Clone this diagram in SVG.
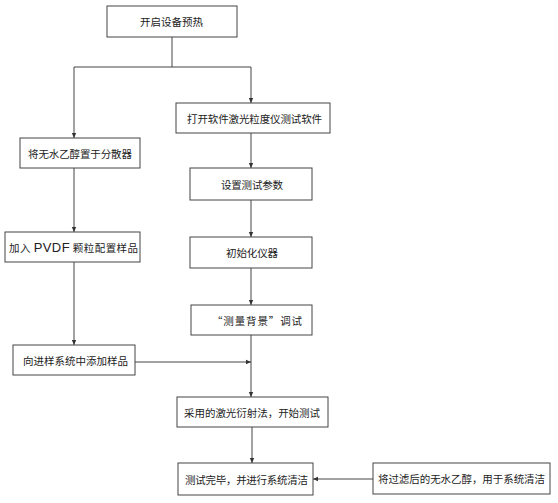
<svg xmlns="http://www.w3.org/2000/svg" width="558" height="503" viewBox="0 0 558 503">
<defs>
<marker id="arr" markerWidth="6" markerHeight="6" refX="5" refY="3" orient="auto" markerUnits="userSpaceOnUse">
<path d="M0,0.8 L5,3 L0,5.2 Z" fill="#333"/>
</marker>
<style>
.box{fill:#fff;stroke:#444;stroke-width:1}
.t{font-family:"Noto Sans CJK SC","Liberation Sans",sans-serif;font-size:10.5px;fill:#222;dominant-baseline:central}
.lat{font-family:"Liberation Sans",sans-serif;font-size:13px}
.c{fill:none;stroke:#444;stroke-width:1}
</style>
</defs>
<rect width="558" height="503" fill="#fff"/>
<g id="connectors">
<path class="c" d="M172,37 V67"/>
<path class="c" d="M74,67 H251"/>
<path class="c" d="M74,67 V138" marker-end="url(#arr)"/>
<path class="c" d="M251,67 V103" marker-end="url(#arr)"/>
<path class="c" d="M74,168 V232" marker-end="url(#arr)"/>
<path class="c" d="M74,262 V345" marker-end="url(#arr)"/>
<path class="c" d="M251,133 V168" marker-end="url(#arr)"/>
<path class="c" d="M251,200 V237" marker-end="url(#arr)"/>
<path class="c" d="M251,268 V305" marker-end="url(#arr)"/>
<path class="c" d="M251,335 V397" marker-end="url(#arr)"/>
<path class="c" d="M135,362 H251" marker-end="url(#arr)"/>
<path class="c" d="M252,427 V463" marker-end="url(#arr)"/>
<path class="c" d="M373,479 H313" marker-end="url(#arr)"/>
</g>
<g id="n1"><rect class="box" x="107" y="6" width="130" height="31"/><text class="t" x="140" y="21.5" textLength="63">开启设备预热</text></g>
<g id="n2"><rect class="box" x="176" y="103" width="154" height="30"/><text class="t" x="187" y="118" textLength="135">打开软件激光粒度仪测试软件</text></g>
<g id="n3"><rect class="box" x="20" y="138" width="120" height="30"/><text class="t" x="28" y="153" textLength="104">将无水乙醇置于分散器</text></g>
<g id="n4"><rect class="box" x="190" y="168" width="122" height="32"/><text class="t" x="221" y="184" textLength="62">设置测试参数</text></g>
<g id="n5"><rect class="box" x="5" y="232" width="135" height="30"/><text class="t" x="9" y="247" textLength="129">加入 <tspan class="lat">PVDF</tspan> 颗粒配置样品</text></g>
<g id="n6"><rect class="box" x="190" y="237" width="122" height="31"/><text class="t" x="226" y="252.5" textLength="52">初始化仪器</text></g>
<g id="n7"><rect class="box" x="191" y="305" width="121" height="30"/><text class="t" x="212" y="320" textLength="90">“测量背景”调试</text></g>
<g id="n8"><rect class="box" x="13" y="345" width="122" height="30"/><text class="t" x="23" y="360" textLength="105">向进样系统中添加样品</text></g>
<g id="n9"><rect class="box" x="177" y="397" width="151" height="30"/><text class="t" x="184" y="412" textLength="136">采用的激光衍射法，开始测试</text></g>
<g id="n10"><rect class="box" x="178" y="463" width="135" height="32"/><text class="t" x="185" y="479" textLength="123">测试完毕，并进行系统清洁</text></g>
<g id="n11"><rect class="box" x="373" y="463" width="177" height="31"/><text class="t" x="378" y="478.5" textLength="167">将过滤后的无水乙醇，用于系统清洁</text></g>
</svg>
